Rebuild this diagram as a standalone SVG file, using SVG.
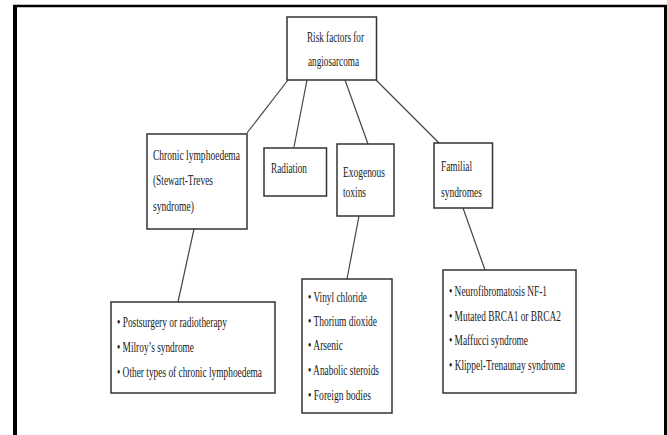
<svg xmlns="http://www.w3.org/2000/svg" width="667" height="435" viewBox="0 0 667 435">
<style>
.box{fill:#fff;stroke:#333;stroke-width:1.5}
.t{font-family:"Liberation Serif","Times New Roman",serif;font-size:14px;fill:#1a1a1a}
.c{stroke:#444;stroke-width:1.2;fill:none}
.frame{stroke:#000;fill:none}
</style>
<rect width="667" height="435" fill="#fff"/>
<g id="frame">
<line class="frame" x1="15" y1="5" x2="15" y2="435" stroke-width="4"/>
<line class="frame" x1="13" y1="6" x2="667" y2="6" stroke-width="2.5"/>
<line class="frame" x1="665.5" y1="5" x2="665.5" y2="435" stroke-width="3"/>
</g>
<g id="connectors">
<line class="c" x1="288" y1="80" x2="247" y2="133"/>
<line class="c" x1="307" y1="80" x2="294" y2="147"/>
<line class="c" x1="345" y1="80" x2="368" y2="144"/>
<line class="c" x1="376" y1="80" x2="439" y2="143"/>
<line class="c" x1="194" y1="229" x2="178" y2="302"/>
<line class="c" x1="359" y1="216" x2="347" y2="279"/>
<line class="c" x1="463" y1="208" x2="485" y2="270"/>
</g>
<g id="root">
<rect class="box" x="287" y="17" width="89.5" height="63"/>
<text class="t" x="307" y="42" textLength="57" lengthAdjust="spacingAndGlyphs">Risk factors for</text>
<text class="t" x="308" y="66" textLength="51" lengthAdjust="spacingAndGlyphs">angiosarcoma</text>
</g>
<g id="chronic">
<rect class="box" x="147" y="134" width="100" height="95"/>
<text class="t" x="153" y="160" textLength="87" lengthAdjust="spacingAndGlyphs">Chronic lymphoedema</text>
<text class="t" x="153" y="185" textLength="60" lengthAdjust="spacingAndGlyphs">(Stewart-Treves</text>
<text class="t" x="153" y="211" textLength="41" lengthAdjust="spacingAndGlyphs">syndrome)</text>
</g>
<g id="radiation">
<rect class="box" x="264" y="148" width="62.5" height="48"/>
<text class="t" x="271" y="173" textLength="36" lengthAdjust="spacingAndGlyphs">Radiation</text>
</g>
<g id="exogenous">
<rect class="box" x="337" y="144" width="57" height="72"/>
<text class="t" x="343" y="177" textLength="42" lengthAdjust="spacingAndGlyphs">Exogenous</text>
<text class="t" x="343" y="197" textLength="23" lengthAdjust="spacingAndGlyphs">toxins</text>
</g>
<g id="familial">
<rect class="box" x="434" y="143" width="58.5" height="65"/>
<text class="t" x="441" y="171" textLength="31" lengthAdjust="spacingAndGlyphs">Familial</text>
<text class="t" x="441" y="197" textLength="41" lengthAdjust="spacingAndGlyphs">syndromes</text>
</g>
<g id="chronic-list">
<rect class="box" x="111" y="302" width="164" height="91"/>
<text class="t" x="117" y="327" textLength="110" lengthAdjust="spacingAndGlyphs">• Postsurgery or radiotherapy</text>
<text class="t" x="117" y="352" textLength="77" lengthAdjust="spacingAndGlyphs">• Milroy’s syndrome</text>
<text class="t" x="117" y="377" textLength="145" lengthAdjust="spacingAndGlyphs">• Other types of chronic lymphoedema</text>
</g>
<g id="toxins-list">
<rect class="box" x="302" y="279" width="90" height="134"/>
<text class="t" x="308" y="302" textLength="59" lengthAdjust="spacingAndGlyphs">• Vinyl chloride</text>
<text class="t" x="308" y="326" textLength="69" lengthAdjust="spacingAndGlyphs">• Thorium dioxide</text>
<text class="t" x="308" y="350" textLength="35" lengthAdjust="spacingAndGlyphs">• Arsenic</text>
<text class="t" x="308" y="375" textLength="71" lengthAdjust="spacingAndGlyphs">• Anabolic steroids</text>
<text class="t" x="308" y="400" textLength="63" lengthAdjust="spacingAndGlyphs">• Foreign bodies</text>
</g>
<g id="familial-list">
<rect class="box" x="443" y="270" width="133" height="123"/>
<text class="t" x="449" y="296" textLength="98" lengthAdjust="spacingAndGlyphs">• Neurofibromatosis NF-1</text>
<text class="t" x="449" y="321" textLength="112" lengthAdjust="spacingAndGlyphs">• Mutated BRCA1 or BRCA2</text>
<text class="t" x="449" y="345" textLength="79" lengthAdjust="spacingAndGlyphs">• Maffucci syndrome</text>
<text class="t" x="449" y="370" textLength="116" lengthAdjust="spacingAndGlyphs">• Klippel-Trenaunay syndrome</text>
</g>
</svg>
